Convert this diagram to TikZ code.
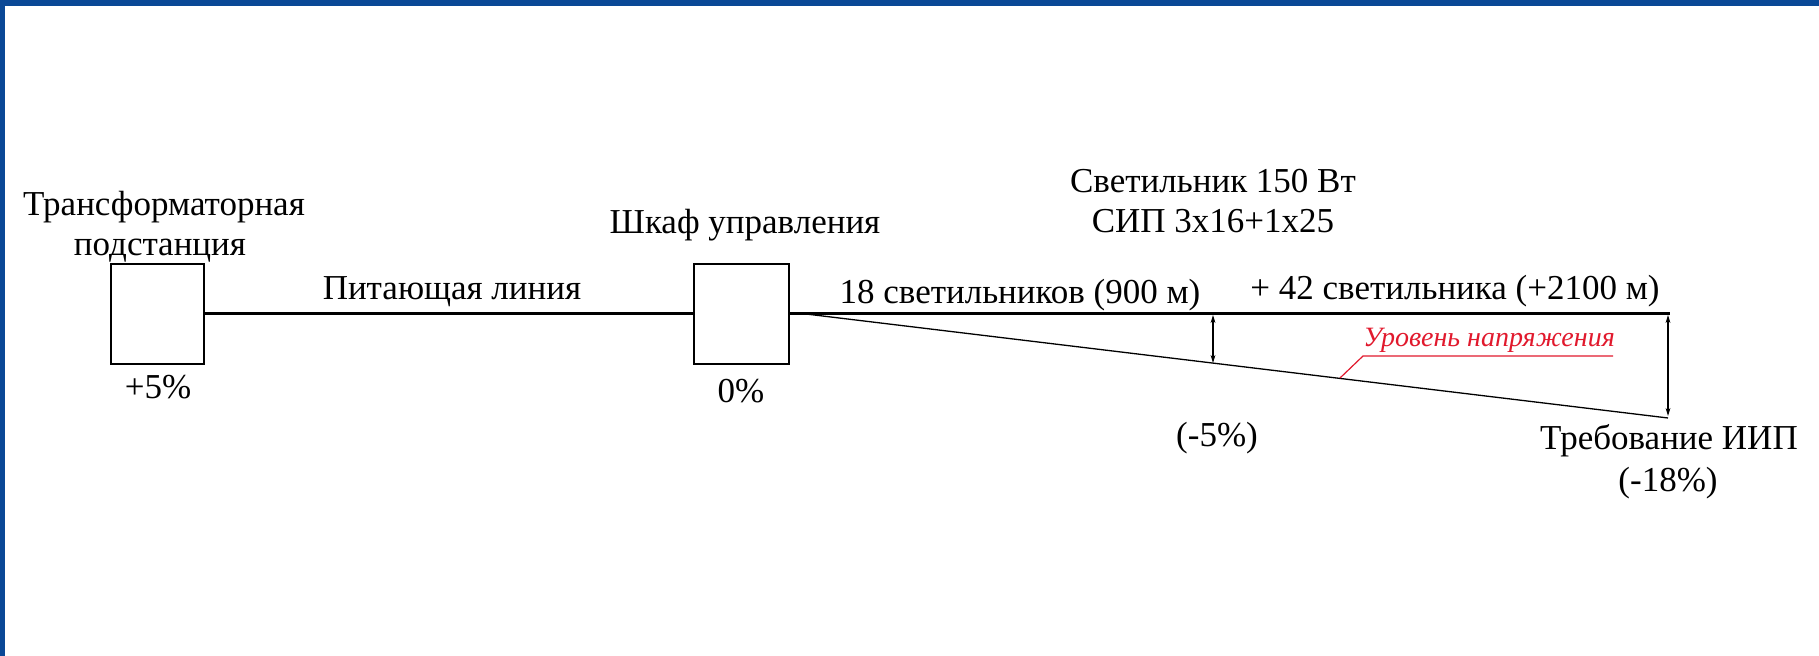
\documentclass[tikz,border=0pt]{standalone}
\usepackage{fontspec}
\setmainfont{Liberation Serif}
\usetikzlibrary{arrows.meta}
\definecolor{frameblue}{RGB}{10,72,150}
\definecolor{labelred}{RGB}{225,25,45}
\begin{document}
\begin{tikzpicture}[x=0.5pt,y=-0.5pt,
  box/.style={draw,line width=0.6pt,inner sep=0},
  lbl/.style={font=\fontsize{17.5}{21}\selectfont,inner sep=0,anchor=base},
  redlbl/.style={font=\fontsize{14}{17}\selectfont\itshape,text=labelred,inner sep=0,anchor=base},
  wire/.style={line width=1.5pt},
  slope/.style={line width=0.65pt},
  dimarrow/.style={line width=0.6pt,{Stealth[length=4pt,width=2.4pt]}-{Stealth[length=4pt,width=2.4pt]}}]
\fill[white] (0,0) rectangle (1819,656);
\fill[frameblue] (0,0) rectangle (1819,6);
\fill[frameblue] (0,0) rectangle (5,656);
\useasboundingbox (0,0) rectangle (1819,656);
% boxes
\node[box,minimum width=46.5pt,minimum height=50pt] (tp) at (157.5,314) {};
\node[box,minimum width=47.5pt,minimum height=50pt] (shu) at (741.5,314) {};
% labels
\node[lbl] (tptxt1) at (164,216) {Трансформаторная};
\node[lbl] (tptxt2) at (160,256) {подстанция};
\node[lbl] (feed) at (452,300) {Питающая линия};
\node[lbl] (tpp) at (158,399) {+5\%};
\node[lbl] (shutxt) at (745,234) {Шкаф управления};
\node[lbl] (shup) at (741,403) {0\%};
\node[lbl] (lamp) at (1213,193) {Светильник 150 Вт};
\node[lbl] (cable) at (1213,233) {СИП 3x16+1x25};
\node[lbl] (seg1) at (1020,304) {18 светильников (900 м)};
\node[lbl] (seg2) at (1455,300) {+ 42 светильника (+2100 м)};
\node[lbl] (m5) at (1217,447) {(-5\%)};
\node[lbl] (req) at (1669,450) {Требование ИИП};
\node[lbl] (m18) at (1668,492) {(-18\%)};
\node[redlbl] (lvl) at (1489,347) {Уровень напряжения};
% wires
\coordinate (lineend) at (1670,314);
\draw[wire] (tp.east) -- (shu.west);
\draw[wire] (shu.east) -- (lineend);
% voltage level line
\coordinate (s0) at (806,314);
\coordinate (s1) at (1668,418);
\draw[slope] (s0) -- (s1);
% dimension arrows
\coordinate (a1t) at (1213,315);
\coordinate (a1b) at (1213,363);
\coordinate (a2t) at (1668,315);
\coordinate (a2b) at (1668,416);
\draw[dimarrow] (a1t) -- (a1b);
\draw[dimarrow] (a2t) -- (a2b);
% red leader
\coordinate (lp) at (1340,378);
\coordinate (u0) at (1363,356);
\coordinate (u1) at (1613,356);
\draw[labelred,line width=0.6pt] (lp) -- (u0) -- (u1);
\end{tikzpicture}
\end{document}
